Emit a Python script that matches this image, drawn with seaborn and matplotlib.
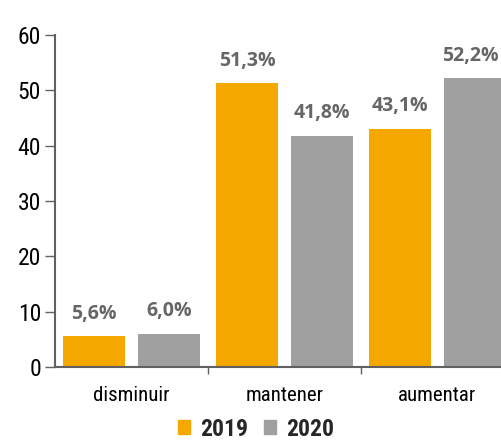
import matplotlib
matplotlib.use("Agg")
import matplotlib.pyplot as plt
from matplotlib.patches import Patch
from matplotlib import font_manager
from matplotlib.font_manager import FontProperties
import seaborn as sns
import pandas as pd

categories = ["disminuir", "mantener", "aumentar"]
years = ["2019", "2020"]
values_2019 = [5.6, 51.3, 43.1]
values_2020 = [6.0, 41.8, 52.2]
y_ticks = [0, 10, 20, 30, 40, 50, 60]

colors = {"2019": "#F5A800", "2020": "#A0A0A0"}

df = pd.DataFrame({
    "categoria": categories * 2,
    "año": ["2019"] * 3 + ["2020"] * 3,
    "valor": values_2019 + values_2020,
})

sns.set_theme(style="white")
cond = ["Roboto Condensed", "DejaVu Sans"]
plt.rcParams["font.family"] = cond


def bold_font(family, size):
    # pick a static bold, normal-width file of the family when there is one
    for f in font_manager.fontManager.ttflist:
        if (f.name == family and f.style == "normal" and f.weight in (700, "bold")
                and f.stretch == "normal" and "Condensed" not in f.fname
                and "[" not in f.fname):
            return FontProperties(fname=f.fname, size=size)
    return FontProperties(family=["Lato", "DejaVu Sans"], weight="bold", size=size)


label_font = bold_font("Open Sans", 14)

fig = plt.figure(figsize=(5.02, 4.40), dpi=100)
ax = fig.add_axes([55 / 502, 1 - 367 / 440, (514 - 55) / 502, (367 - 35) / 440])

sns.barplot(data=df, x="categoria", y="valor", hue="año", order=categories,
            hue_order=years, palette=colors, width=0.98, gap=0.17,
            saturation=1, linewidth=0, ax=ax, legend=False)

ax.set_xlim(-0.5, 2.5)
ax.set_ylim(0, 60)
ax.set_yticks(y_ticks)
ax.set_xlabel("")
ax.set_ylabel("")

for side in ["top", "right"]:
    ax.spines[side].set_visible(False)
for side in ["left", "bottom"]:
    ax.spines[side].set_color("#606060")
    ax.spines[side].set_linewidth(1.5)

ax.tick_params(axis="y", which="major", left=True, length=7, width=1,
               color="#606060", labelsize=17, labelcolor="black", pad=3)
ax.tick_params(axis="x", which="major", bottom=False, labelsize=15,
               labelcolor="black", pad=8)
ax.set_xticks([0.5, 1.5], minor=True)
ax.tick_params(axis="x", which="minor", bottom=True, length=5, width=1,
               color="#606060")

# percentage labels above each bar
labels = []
for container in ax.containers:
    for bar in container:
        h = bar.get_height()
        labels.append(ax.annotate(f"{h:.1f}%".replace(".", ","),
                                  xy=(bar.get_x() + bar.get_width() / 2, h),
                                  xytext=(0, 9), textcoords="offset points",
                                  ha="center", va="bottom", fontproperties=label_font,
                                  color="#666666", annotation_clip=False))

# keep labels inside the figure's right edge
fig.canvas.draw()
renderer = fig.canvas.get_renderer()
fig_w = fig.bbox.width
for lab in labels:
    right = lab.get_window_extent(renderer).x1
    if right > fig_w - 3:
        dx = (right - (fig_w - 3)) * 72 / fig.dpi
        lab.set_position((-dx, 9))

handles = [Patch(color=colors[y], label=y) for y in years]
fig.legend(handles=handles, loc="center", bbox_to_anchor=(256 / 502, 1 - 429 / 440),
           ncol=2, frameon=False, handlelength=0.5, handleheight=0.5,
           handletextpad=0.42, columnspacing=0.68, borderpad=0,
           prop={"family": cond, "weight": "bold", "size": 17})

fig.savefig("out.png", dpi=100)
